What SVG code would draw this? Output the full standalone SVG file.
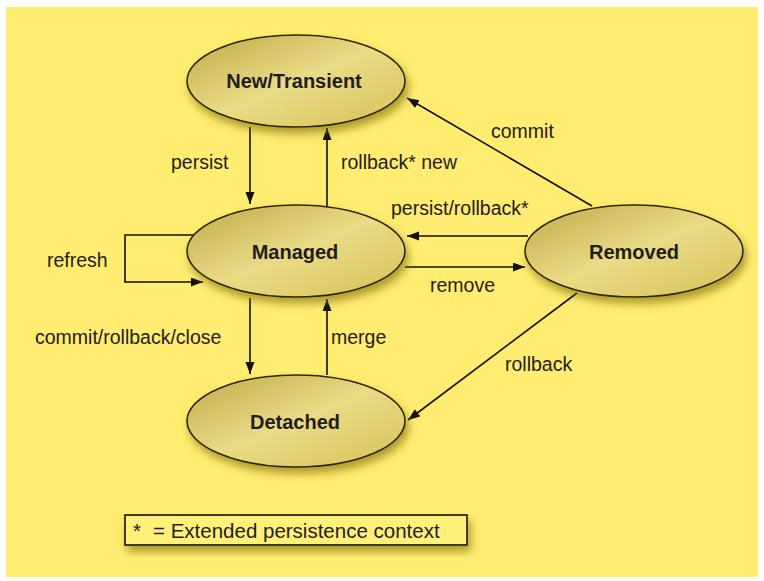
<svg xmlns="http://www.w3.org/2000/svg" width="764" height="581" viewBox="0 0 764 581">
<defs>
<linearGradient id="nodeFill" x1="0" y1="0" x2="1" y2="1">
<stop offset="0" stop-color="#BFAA48"/>
<stop offset="0.5" stop-color="#EADB86"/>
<stop offset="1" stop-color="#D6C258"/>
</linearGradient>
<filter id="shadow" x="-20%" y="-20%" width="150%" height="160%">
<feGaussianBlur in="SourceAlpha" stdDeviation="4"/>
<feOffset dx="3" dy="6" result="b"/>
<feFlood flood-color="#7A6600" flood-opacity="0.6"/>
<feComposite in2="b" operator="in"/>
<feMerge><feMergeNode/><feMergeNode in="SourceGraphic"/></feMerge>
</filter>
<marker id="arrow" markerWidth="13" markerHeight="10" refX="12" refY="4.5" orient="auto" markerUnits="userSpaceOnUse">
<path d="M0,0 L12,4.5 L0,9 z" fill="#111"/>
</marker>
</defs>
<style>
.node ellipse { fill: url(#nodeFill); stroke: #2E2800; stroke-width: 1.6; filter: url(#shadow); }
.node text { font-family: "Liberation Sans", Arial, sans-serif; font-weight: bold; font-size: 20px; fill: #1E1E1E; text-anchor: middle; }
.edges path { fill: none; stroke: #111; stroke-width: 1.6; marker-end: url(#arrow); }
.lbl { font-family: "Liberation Sans", Arial, sans-serif; font-size: 19.5px; fill: #222; }
</style>
<rect x="0" y="0" width="764" height="581" fill="#FFFFFF"/>
<rect x="6" y="7" width="752" height="570" fill="#FFEC70"/>

<g class="edges" id="connectors">
<path d="M250,127 L250,204"/>
<path d="M327,206 L327,128"/>
<path d="M592,206 L407,98"/>
<path d="M528,236 L407,236"/>
<path d="M405,267 L525,267"/>
<path d="M194,235 L125,235 L125,282 L203,282"/>
<path d="M250,298 L250,374"/>
<path d="M327,375 L327,299"/>
<path d="M577,293 L408,420"/>
</g>

<g id="node-new" class="node">
<ellipse cx="296" cy="81" rx="109" ry="46"/>
<text x="294" y="88">New/Transient</text>
</g>
<g id="node-managed" class="node">
<ellipse cx="296" cy="251" rx="109" ry="46"/>
<text x="295" y="259">Managed</text>
</g>
<g id="node-removed" class="node">
<ellipse cx="634" cy="251" rx="109" ry="46"/>
<text x="634" y="259">Removed</text>
</g>
<g id="node-detached" class="node">
<ellipse cx="296" cy="421" rx="109" ry="46"/>
<text x="295" y="429">Detached</text>
</g>

<g id="labels">
<text class="lbl" x="171" y="169">persist</text>
<text class="lbl" x="341" y="169">rollback* new</text>
<text class="lbl" x="491" y="138">commit</text>
<text class="lbl" x="391" y="215">persist/rollback*</text>
<text class="lbl" x="47" y="267">refresh</text>
<text class="lbl" x="430" y="292">remove</text>
<text class="lbl" x="35" y="344">commit/rollback/close</text>
<text class="lbl" x="331" y="344">merge</text>
<text class="lbl" x="505" y="371">rollback</text>
</g>

<g id="legend">
<rect x="125" y="515" width="342" height="30" fill="#FFF07A" stroke="#111" stroke-width="1.6" filter="url(#shadow)"/>
<text class="lbl" x="133" y="538" style="font-size:20.5px">*</text>
<text class="lbl" x="153" y="538" style="font-size:20.5px">= Extended persistence context</text>
</g>
</svg>
